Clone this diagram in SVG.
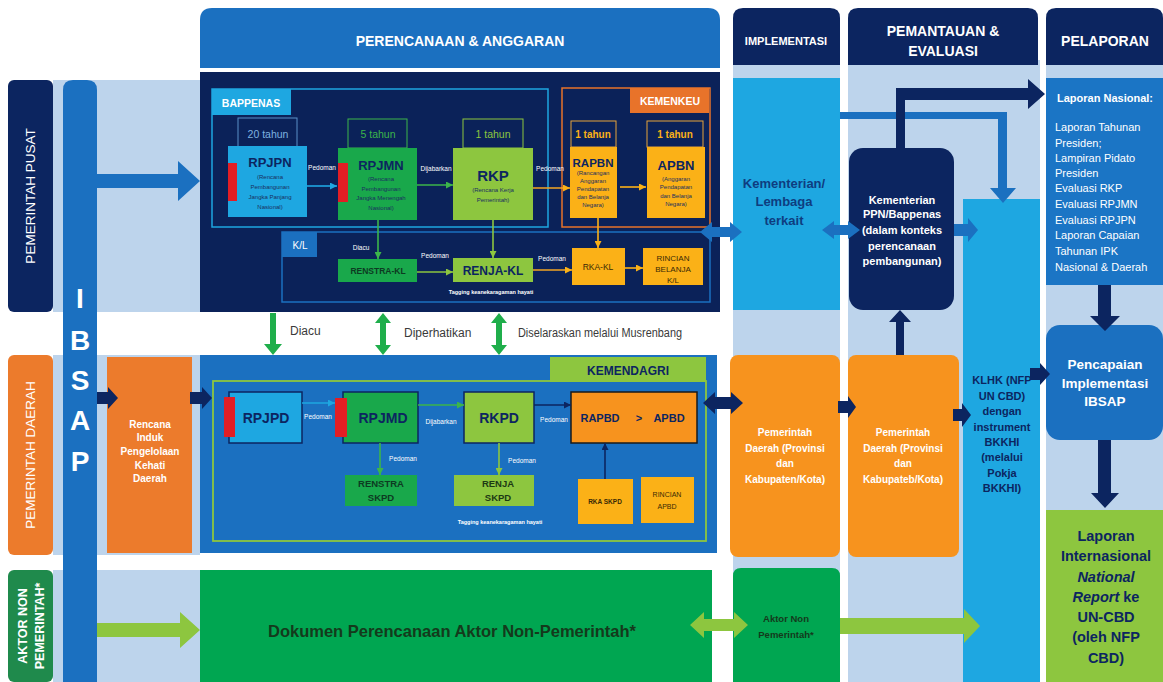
<svg xmlns="http://www.w3.org/2000/svg" width="1163" height="682" viewBox="0 0 1163 682">
<defs>
<style>
text{font-family:"Liberation Sans",Arial,sans-serif}
.b{font-weight:bold}
.w{fill:#ffffff}
.nv{fill:#0c2560}
.m{text-anchor:middle}
.band{fill:#bdd4ec}
.navy{fill:#0c2560}
.blue{fill:#1b70c0}
.sky{fill:#1ea7e1}
.grn{fill:#19a84b}
.lg{fill:#8dc63f}
.yel{fill:#fbb117}
.org{fill:#f7931e}
.lbl{font-size:6.5px;fill:#ffffff;text-anchor:middle}
.sub{font-size:6px;fill:#1a3060;text-anchor:middle}
.ln{fill:none;stroke-width:1.6}
.io{stroke:#0c2560;stroke-width:1.5}
</style>
<marker id="aSky" viewBox="0 0 8 8" refX="8" refY="4" markerWidth="7" markerHeight="7" markerUnits="userSpaceOnUse" orient="auto"><path d="M0,0L8,4L0,8z" fill="#1ea7e1"/></marker>
<marker id="aGrn" viewBox="0 0 8 8" refX="8" refY="4" markerWidth="7" markerHeight="7" markerUnits="userSpaceOnUse" orient="auto"><path d="M0,0L8,4L0,8z" fill="#3cb54a"/></marker>
<marker id="aLg" viewBox="0 0 8 8" refX="8" refY="4" markerWidth="7" markerHeight="7" markerUnits="userSpaceOnUse" orient="auto"><path d="M0,0L8,4L0,8z" fill="#8dc63f"/></marker>
<marker id="aYel" viewBox="0 0 8 8" refX="8" refY="4" markerWidth="7" markerHeight="7" markerUnits="userSpaceOnUse" orient="auto"><path d="M0,0L8,4L0,8z" fill="#fbb117"/></marker>
<marker id="aNv" viewBox="0 0 8 8" refX="8" refY="4" markerWidth="7" markerHeight="7" markerUnits="userSpaceOnUse" orient="auto"><path d="M0,0L8,4L0,8z" fill="#0c2560"/></marker>
</defs>
<rect width="1163" height="682" fill="#ffffff"/>

<!-- background bands -->
<g id="bands">
<rect class="band" x="53" y="80" width="147" height="232"/>
<rect class="band" x="53" y="355" width="147" height="200"/>
<rect class="band" x="53" y="570" width="147" height="112"/>
<rect class="band" x="733" y="60" width="107" height="622"/>
<rect class="band" x="848" y="60" width="192" height="622"/>
<rect class="band" x="1046" y="60" width="117" height="622"/>
</g>

<!-- headers -->
<g id="hdr-perencanaan">
<path class="blue" d="M200,68V20Q200,8 212,8H708Q720,8 720,20V68Z"/>
<text class="b w m" x="460" y="46" font-size="14">PERENCANAAN &amp; ANGGARAN</text>
</g>
<g id="hdr-implementasi">
<path class="navy" d="M733,65V18Q733,8 743,8H830Q840,8 840,18V65Z"/>
<text class="b w m" x="786" y="45" font-size="11">IMPLEMENTASI</text>
</g>
<g id="hdr-pemantauan">
<path class="navy" d="M848,65V18Q848,8 858,8H1028Q1038,8 1038,18V65Z"/>
<text class="b w m" x="943" y="36" font-size="14">PEMANTAUAN &amp;</text>
<text class="b w m" x="943" y="56" font-size="14">EVALUASI</text>
</g>
<g id="hdr-pelaporan">
<path class="navy" d="M1046,65V18Q1046,8 1056,8H1153Q1163,8 1163,18V65Z"/>
<text class="b w m" x="1105" y="46" font-size="14">PELAPORAN</text>
</g>

<!-- row labels -->
<g id="lbl-pusat">
<rect class="navy" x="8" y="80" width="45" height="232" rx="6"/>
<text class="w m" font-size="13.5" transform="translate(35,196) rotate(-90)">PEMERINTAH PUSAT</text>
</g>
<g id="lbl-daerah">
<rect x="8" y="355" width="45" height="200" rx="6" fill="#ec7b2c"/>
<text class="w m" font-size="13.5" transform="translate(35,455) rotate(-90)">PEMERINTAH DAERAH</text>
</g>
<g id="lbl-aktor">
<rect x="8" y="570" width="45" height="112" rx="6" fill="#1f8a4c"/>
<text class="b w m" font-size="12.5" transform="translate(27,626) rotate(-90)">AKTOR NON</text>
<text class="b w m" font-size="12.5" transform="translate(44,626) rotate(-90)">PEMERINTAH*</text>
</g>

<!-- IBSAP bar -->
<g id="ibsap">
<path class="blue" d="M63,682V90Q63,80 73,80H87Q97,80 97,90V682Z"/>
<g class="b w m" font-size="28">
<text x="80" y="308">I</text>
<text x="80" y="350">B</text>
<text x="80" y="390">S</text>
<text x="80" y="430">A</text>
<text x="80" y="471">P</text>
</g>
</g>

<g id="rencana-induk">
<rect x="107" y="357" width="85" height="196" fill="#ec7b2c"/>
<g class="b w m" font-size="10">
<text x="150" y="428">Rencana</text>
<text x="150" y="441">Induk</text>
<text x="150" y="455">Pengelolaan</text>
<text x="150" y="469">Kehati</text>
<text x="150" y="482">Daerah</text>
</g>
</g>

<!-- ===== Row 1 central box ===== -->
<g id="pusat-box">
<rect x="200" y="72" width="520" height="240" fill="#0b2259"/>
</g>
<g id="bappenas-frame">
<rect x="212" y="89" width="336" height="138" fill="none" stroke="#1ea7e1" stroke-width="1.5"/>
<rect class="sky" x="212" y="89" width="79" height="26"/>
<text class="b w m" x="251" y="107" font-size="10.5">BAPPENAS</text>
</g>
<g id="kemenkeu-frame">
<rect x="562" y="88" width="148" height="139" fill="none" stroke="#e8732a" stroke-width="1.5"/>
<rect x="630" y="88" width="79" height="25" fill="#e8732a"/>
<text class="b w m" x="670" y="105" font-size="10.5">KEMENKEU</text>
</g>
<g id="kl-frame">
<rect x="282" y="232" width="428" height="70" fill="none" stroke="#1b70c0" stroke-width="1.5"/>
<rect class="blue" x="282" y="232" width="35" height="25"/>
<text class="w m" x="300" y="249" font-size="10">K/L</text>
</g>

<g id="rpjpn">
<rect x="238" y="118" width="59" height="29" fill="none" stroke="#5a8fc8" stroke-width="1"/>
<text class="m" x="268" y="138" font-size="10.5" fill="#7fb2e0">20 tahun</text>
<rect class="sky" x="228" y="146" width="79" height="71"/>
<rect x="228" y="163" width="9" height="38" fill="#e31e24"/>
<text class="b nv m" x="270" y="167" font-size="13">RPJPN</text>
<text class="sub" x="270" y="179">(Rencana</text>
<text class="sub" x="270" y="189">Pembangunan</text>
<text class="sub" x="270" y="199">Jangka Panjang</text>
<text class="sub" x="270" y="209">Nasional)</text>
</g>
<g id="rpjmn">
<rect x="348" y="119" width="59" height="29" fill="none" stroke="#3cb54a" stroke-width="1"/>
<text class="m" x="378" y="138" font-size="10.5" fill="#3cb54a">5 tahun</text>
<rect class="grn" x="338" y="148" width="79" height="72"/>
<rect x="338" y="163" width="10" height="39" fill="#e31e24"/>
<text class="b nv m" x="381" y="170" font-size="13">RPJMN</text>
<text class="sub" x="381" y="181">(Rencana</text>
<text class="sub" x="381" y="191">Pembangunan</text>
<text class="sub" x="381" y="200">Jangka Menengah</text>
<text class="sub" x="381" y="210">Nasional)</text>
</g>
<g id="rkp">
<rect x="463" y="119" width="60" height="29" fill="none" stroke="#8dc63f" stroke-width="1"/>
<text class="m" x="493" y="138" font-size="10.5" fill="#8dc63f">1 tahun</text>
<rect class="lg" x="453" y="148" width="80" height="72"/>
<text class="b nv m" x="493" y="181" font-size="15">RKP</text>
<text class="sub" x="493" y="192">(Rencana Kerja</text>
<text class="sub" x="493" y="202">Pemerintah)</text>
</g>
<g id="rapbn">
<rect x="571" y="121" width="45" height="26" fill="none" stroke="#e8a33a" stroke-width="1"/>
<text class="b m" x="593" y="138" font-size="10" fill="#fbb117">1 tahun</text>
<rect class="yel" x="570" y="147" width="47" height="71"/>
<text class="b nv m" x="593" y="167" font-size="11.5">RAPBN</text>
<text class="sub" x="593" y="175" font-size="5.3">(Rancangan</text>
<text class="sub" x="593" y="183" font-size="5.3">Anggaran</text>
<text class="sub" x="593" y="191" font-size="5.3">Pendapatan</text>
<text class="sub" x="593" y="199" font-size="5.3">dan Belanja</text>
<text class="sub" x="593" y="207" font-size="5.3">Negara)</text>
</g>
<g id="apbn">
<rect x="647" y="121" width="56" height="26" fill="none" stroke="#e8a33a" stroke-width="1"/>
<text class="b m" x="675" y="138" font-size="10" fill="#fbb117">1 tahun</text>
<rect class="yel" x="647" y="147" width="58" height="71"/>
<text class="b nv m" x="676" y="170" font-size="13">APBN</text>
<text class="sub" x="676" y="181" font-size="5.5">(Anggaran</text>
<text class="sub" x="676" y="189" font-size="5.5">Pendapatan</text>
<text class="sub" x="676" y="198" font-size="5.5">dan Belanja</text>
<text class="sub" x="676" y="206" font-size="5.5">Negara)</text>
</g>
<g id="renstra-kl">
<rect class="grn" x="338" y="259" width="79" height="23"/>
<text class="b m" x="378" y="274" font-size="8.5" fill="#0d3b22">RENSTRA-KL</text>
</g>
<g id="renja-kl">
<rect class="lg" x="453" y="258" width="80" height="24"/>
<text class="b nv m" x="493" y="275" font-size="12">RENJA-KL</text>
<text class="b w m" x="491" y="294" font-size="5.5">Tagging keanekaragaman hayati</text>
</g>
<g id="rka-kl">
<rect class="yel" x="572" y="248" width="53" height="37"/>
<text class="m" x="598" y="270" font-size="8.5" fill="#3a2a05">RKA-KL</text>
</g>
<g id="rincian-kl">
<rect class="yel" x="643" y="248" width="60" height="37"/>
<text class="m" x="673" y="261" font-size="8" fill="#3a2a05">RINCIAN</text>
<text class="m" x="673" y="272" font-size="8" fill="#3a2a05">BELANJA</text>
<text class="m" x="673" y="283" font-size="8" fill="#3a2a05">K/L</text>
</g>

<!-- ===== Row 2 central box ===== -->
<g id="daerah-box">
<rect class="blue" x="200" y="355" width="517" height="198"/>
<rect x="213" y="381" width="493" height="160" fill="none" stroke="#8dc63f" stroke-width="1.8"/>
</g>
<g id="kemendagri">
<rect class="lg" x="550" y="357" width="156" height="25"/>
<text class="b nv m" x="628" y="375" font-size="12">KEMENDAGRI</text>
</g>
<g id="rpjpd">
<rect class="sky io" x="229" y="392" width="73" height="51"/>
<rect x="224" y="397" width="11" height="40" fill="#e31e24"/>
<text class="b nv m" x="266" y="423" font-size="14">RPJPD</text>
</g>
<g id="rpjmd">
<rect class="grn io" x="343" y="392" width="75" height="51"/>
<rect x="335" y="398" width="12" height="39" fill="#e31e24"/>
<text class="b nv m" x="383" y="423" font-size="14">RPJMD</text>
</g>
<g id="rkpd">
<rect class="lg io" x="464" y="392" width="70" height="51"/>
<text class="b nv m" x="499" y="423" font-size="14">RKPD</text>
</g>
<g id="rapbd">
<rect class="org" x="571" y="392" width="126" height="51" stroke="#1a1a1a" stroke-width="1.5"/>
<text class="b nv m" x="600" y="422" font-size="11">RAPBD</text>
<text class="b nv m" x="639" y="422" font-size="11">&gt;</text>
<text class="b nv m" x="669" y="422" font-size="11">APBD</text>
</g>
<g id="renstra-skpd">
<rect class="grn" x="345" y="475" width="72" height="31"/>
<text class="b m" x="381" y="487" font-size="9.5" fill="#0d3b22">RENSTRA</text>
<text class="b m" x="381" y="501" font-size="9.5" fill="#0d3b22">SKPD</text>
</g>
<g id="renja-skpd">
<rect class="lg" x="454" y="475" width="80" height="31"/>
<text class="b m" x="498" y="487" font-size="9.5" fill="#1d3a14">RENJA</text>
<text class="b m" x="498" y="501" font-size="9.5" fill="#1d3a14">SKPD</text>
<text class="b w m" x="500" y="524" font-size="5.5">Tagging keanekaragaman hayati</text>
</g>
<g id="rka-skpd">
<rect class="yel" x="578" y="479" width="55" height="45"/>
<text class="b m" x="605" y="504" font-size="6.5" fill="#3a2a05">RKA SKPD</text>
</g>
<g id="rincian-apbd">
<rect class="yel" x="641" y="477" width="53" height="46"/>
<text class="m" x="667" y="497" font-size="7" fill="#3a2a05">RINCIAN</text>
<text class="m" x="667" y="509" font-size="7" fill="#3a2a05">APBD</text>
</g>

<!-- ===== Row 3 ===== -->
<g id="dokumen">
<rect x="200" y="570" width="512" height="112" fill="#00a651"/>
<text class="b m" x="452" y="637" font-size="16.5" fill="#143a1c">Dokumen Perencanaan Aktor Non-Pemerintah*</text>
</g>

<!-- ===== Implementasi column ===== -->
<g id="kementerian-lembaga">
<rect class="sky" x="733" y="78" width="107" height="232"/>
<text class="b m" x="784" y="188" font-size="13" fill="#0e3d80">Kementerian/</text>
<text class="b m" x="784" y="206" font-size="13" fill="#0e3d80">Lembaga</text>
<text class="b m" x="784" y="225" font-size="13" fill="#0e3d80">terkait</text>
</g>
<g id="pemda-impl">
<rect class="org" x="730" y="355" width="110" height="202" rx="8"/>
<g class="b w m" font-size="10">
<text x="785" y="436">Pemerintah</text>
<text x="785" y="452">Daerah (Provinsi</text>
<text x="785" y="467">dan</text>
<text x="785" y="483">Kabupaten/Kota)</text>
</g>
</g>
<g id="aktor-impl">
<path d="M733,682V576Q733,568 741,568H832Q840,568 840,576V682Z" fill="#00a651"/>
<text class="b m" x="786" y="622" font-size="9.5" fill="#143a1c">Aktor Non</text>
<text class="b m" x="786" y="638" font-size="9.5" fill="#143a1c">Pemerintah*</text>
</g>

<!-- ===== Pemantauan column ===== -->
<g id="ppn-bappenas">
<rect class="navy" x="849" y="148" width="105" height="162" rx="14"/>
<g class="b w m" font-size="11">
<text x="902" y="204">Kementerian</text>
<text x="902" y="218">PPN/Bappenas</text>
<text x="902" y="234">(dalam konteks</text>
<text x="902" y="250">perencanaan</text>
<text x="902" y="265">pembangunan)</text>
</g>
</g>
<g id="pemda-monev">
<rect class="org" x="848" y="355" width="111" height="202" rx="8"/>
<g class="b w m" font-size="10">
<text x="903" y="436">Pemerintah</text>
<text x="903" y="452">Daerah (Provinsi</text>
<text x="903" y="467">dan</text>
<text x="903" y="483">Kabupateb/Kota)</text>
</g>
</g>
<g id="klhk">
<rect class="sky" x="963" y="199" width="77" height="483"/>
<g class="b nv m" font-size="11">
<text x="1002" y="384">KLHK (NFP</text>
<text x="1002" y="400">UN CBD)</text>
<text x="1002" y="415">dengan</text>
<text x="1002" y="431">instrument</text>
<text x="1002" y="446">BKKHI</text>
<text x="1002" y="461">(melalui</text>
<text x="1002" y="477">Pokja</text>
<text x="1002" y="492">BKKHI)</text>
</g>
</g>

<!-- ===== Pelaporan column ===== -->
<g id="laporan-nasional">
<rect x="1046" y="78" width="117" height="207" fill="#1b75c5"/>
<text class="b w m" x="1105" y="102" font-size="11">Laporan Nasional:</text>
<g class="w" font-size="11">
<text x="1055" y="131">Laporan Tahunan</text>
<text x="1055" y="147">Presiden;</text>
<text x="1055" y="162">Lampiran Pidato</text>
<text x="1055" y="177">Presiden</text>
<text x="1055" y="192">Evaluasi RKP</text>
<text x="1055" y="208">Evaluasi RPJMN</text>
<text x="1055" y="224">Evaluasi RPJPN</text>
<text x="1055" y="239">Laporan Capaian</text>
<text x="1055" y="255">Tahunan IPK</text>
<text x="1055" y="271">Nasional &amp; Daerah</text>
</g>
</g>
<g id="pencapaian">
<rect class="blue" x="1046" y="325" width="117" height="115" rx="14"/>
<g class="b w m" font-size="13.5">
<text x="1105" y="369">Pencapaian</text>
<text x="1105" y="388">Implementasi</text>
<text x="1105" y="406">IBSAP</text>
</g>
</g>
<g id="laporan-internasional">
<rect class="lg" x="1046" y="510" width="117" height="172"/>
<g class="b nv m" font-size="14.5">
<text x="1106" y="541">Laporan</text>
<text x="1106" y="561">Internasional</text>
<text x="1106" y="582" font-style="italic">National</text>
<text x="1106" y="602"><tspan font-style="italic">Report</tspan> ke</text>
<text x="1106" y="622">UN-CBD</text>
<text x="1106" y="642">(oleh NFP</text>
<text x="1106" y="663">CBD)</text>
</g>
</g>

<!-- ===== connectors ===== -->
<g id="connectors">
<!-- block arrows -->
<polygon class="blue" points="97,174 178,174 178,161 200,181 178,201 178,188 97,188"/>
<polygon class="lg" points="97,623 180,623 180,612 200,630 180,648 180,637 97,637"/>
<polygon class="navy" points="97,392 108,392 108,387 118,398 108,409 108,404 97,404"/>
<polygon class="navy" points="190,392 202,392 202,387 212,398 202,409 202,404 190,404"/>
<polygon class="blue" points="700,232 712,222 712,227 730,227 730,222 742,232 730,242 730,237 712,237 712,242"/>
<polygon class="navy" points="703,403 715,392 715,397 731,397 731,392 743,403 731,414 731,409 715,409 715,414"/>
<polygon class="lg" points="690,625 704,612 704,619 734,619 734,612 748,625 734,638 734,631 704,631 704,638"/>
<polygon class="blue" points="822,230 834,221 834,225 848,225 848,221 860,230 848,239 848,235 834,235 834,239"/>
<polygon class="blue" points="954,224 968,224 968,218 978,230 968,242 968,236 954,236"/>
<polygon class="blue" points="840,112 1007,112 1007,188 1016,188 1003,203 990,188 998,188 998,119 840,119"/>
<polygon class="navy" points="896,148 896,88 1028,88 1028,79 1045,94 1028,109 1028,100 905,100 905,148"/>
<polygon class="navy" points="896,355 896,322 889,322 900,310 911,322 904,322 904,355"/>
<polygon class="navy" points="838,401 848,401 848,396 856,407 848,418 848,413 838,413"/>
<polygon class="navy" points="953,409 962,409 962,403 971,415 962,427 962,421 953,421"/>
<polygon class="navy" points="1030,368 1040,368 1040,363 1050,374 1040,385 1040,380 1030,380"/>
<polygon class="navy" points="1098,285 1111,285 1111,316 1120,316 1105,331 1090,316 1098,316"/>
<polygon class="navy" points="1098,440 1111,440 1111,493 1119,493 1105,508 1091,493 1098,493"/>
<polygon class="lg" points="840,618 964,618 964,609 980,626 964,643 964,634 840,634"/>
<!-- between rows -->
<polygon fill="#1fae4b" points="270,313 276,313 276,344 282,344 273,355 264,344 270,344"/>
<polygon fill="#1fae4b" points="383,313 391,323 386,323 386,345 391,345 383,355 375,345 380,345 380,323 375,323"/>
<polygon fill="#1fae4b" points="499,313 507,323 502,323 502,345 507,345 499,355 491,345 496,345 496,323 491,323"/>
<text x="290" y="335" font-size="12" fill="#3a3a3a">Diacu</text>
<text x="404" y="337" font-size="12" fill="#3a3a3a">Diperhatikan</text>
<text x="518" y="337" font-size="12" fill="#3a3a3a" textLength="164" lengthAdjust="spacingAndGlyphs">Diselaraskan melalui Musrenbang</text>

<!-- row 1 thin connectors -->
<line class="ln" x1="307" y1="186" x2="337" y2="186" stroke="#1ea7e1" marker-end="url(#aSky)"/>
<text class="lbl" x="322" y="170">Pedoman</text>
<line class="ln" x1="417" y1="185" x2="453" y2="185" stroke="#3cb54a" marker-end="url(#aGrn)"/>
<text class="lbl" x="436" y="171">Dijabarkan</text>
<line class="ln" x1="533" y1="188" x2="570" y2="188" stroke="#f5a623" marker-end="url(#aYel)"/>
<text class="lbl" x="550" y="171">Pedoman</text>
<line class="ln" x1="620" y1="187" x2="646" y2="187" stroke="#fbb117" marker-end="url(#aYel)"/>
<line class="ln" x1="598" y1="218" x2="598" y2="248" stroke="#fbb117" marker-end="url(#aYel)"/>
<line class="ln" x1="378" y1="220" x2="378" y2="259" stroke="#3cb54a" marker-end="url(#aGrn)"/>
<text class="lbl" x="361" y="250">Diacu</text>
<line class="ln" x1="493" y1="220" x2="493" y2="258" stroke="#8dc63f" marker-end="url(#aLg)"/>
<line class="ln" x1="417" y1="272" x2="453" y2="272" stroke="#8dc63f" marker-end="url(#aLg)"/>
<text class="lbl" x="435" y="258">Pedoman</text>
<line class="ln" x1="533" y1="270" x2="572" y2="270" stroke="#f5a623" marker-end="url(#aYel)"/>
<text class="lbl" x="552" y="261">Pedoman</text>
<line class="ln" x1="625" y1="268" x2="643" y2="268" stroke="#fbb117" marker-end="url(#aYel)"/>

<!-- row 2 thin connectors -->
<line class="ln" x1="302" y1="403" x2="335" y2="403" stroke="#1ea7e1" marker-end="url(#aSky)"/>
<text class="lbl" x="318" y="419" font-size="7">Pedoman</text>
<line class="ln" x1="418" y1="405" x2="464" y2="405" stroke="#3cb54a" marker-end="url(#aGrn)"/>
<text class="lbl" x="441" y="424" font-size="7">Dijabarkan</text>
<line class="ln" x1="534" y1="405" x2="571" y2="405" stroke="#0c2560" marker-end="url(#aNv)"/>
<text class="lbl" x="554" y="422" font-size="7">Pedoman</text>
<line class="ln" x1="380" y1="443" x2="380" y2="475" stroke="#3cb54a" marker-end="url(#aGrn)"/>
<text class="lbl" x="403" y="461" font-size="7">Pedoman</text>
<line class="ln" x1="499" y1="443" x2="499" y2="475" stroke="#8dc63f" marker-end="url(#aLg)"/>
<text class="lbl" x="522" y="463" font-size="7">Pedoman</text>
<line class="ln" x1="605" y1="479" x2="605" y2="443" stroke="#0c2560" marker-end="url(#aNv)"/>
</g>
</svg>
